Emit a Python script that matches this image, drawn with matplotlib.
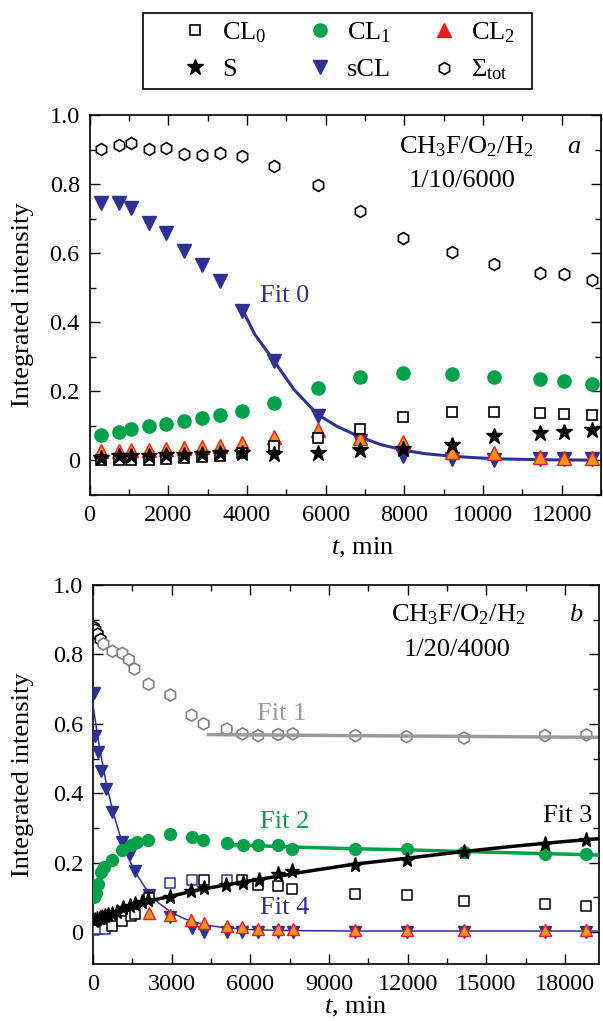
import matplotlib
matplotlib.use('Agg')
import matplotlib.pyplot as plt
from matplotlib.ticker import MultipleLocator, FuncFormatter
from matplotlib.lines import Line2D
from matplotlib.patches import Rectangle

plt.rcParams['font.family'] = 'Liberation Serif'
plt.rcParams['mathtext.fontset'] = 'custom'
plt.rcParams['mathtext.rm'] = 'Liberation Serif'
plt.rcParams['mathtext.it'] = 'Liberation Serif:italic'

BLUE = '#2e3192'
GREEN = '#00a14b'
ORANGE = '#f7941d'
RED = '#ed1c24'
GRAY = '#9a9a9a'

# ---------- panel a: CH3F/O2/H2 = 1/10/6000 ----------
t_a = [300, 760, 1060, 1510, 1940, 2400, 2860, 3310, 3880, 4690,
       5800, 6880, 7980, 9220, 10290, 11460, 12060, 12780]
tot_a = [0.901, 0.914, 0.920, 0.901, 0.904, 0.887, 0.885, 0.889, 0.880, 0.851,
         0.798, 0.723, 0.644, 0.602, 0.570, 0.544, 0.539, 0.522]
scl_a = [0.745, 0.744, 0.730, 0.687, 0.657, 0.605, 0.566, 0.520, 0.433, 0.288,
         0.130, 0.056, 0.012, 0.004, 0.002, 0.005, 0.005, 0.005]
cl1_a = [0.073, 0.082, 0.090, 0.099, 0.105, 0.113, 0.123, 0.131, 0.143, 0.166,
         0.211, 0.241, 0.254, 0.249, 0.243, 0.235, 0.230, 0.222]
cl2_a = [0.027, 0.027, 0.030, 0.030, 0.032, 0.035, 0.039, 0.041, 0.051, 0.069,
         0.087, 0.066, 0.053, 0.024, 0.022, 0.011, 0.008, 0.006]
cl0_a = [0.0, 0.0, 0.001, 0.002, 0.003, 0.006, 0.010, 0.014, 0.022, 0.041,
         0.066, 0.092, 0.126, 0.140, 0.140, 0.136, 0.135, 0.131]
s_a = [0.008, 0.012, 0.012, 0.014, 0.016, 0.017, 0.019, 0.022, 0.022, 0.020,
       0.022, 0.030, 0.034, 0.046, 0.070, 0.080, 0.082, 0.087]
# Fit 0 curve
fit0_t = [3880, 4200, 4690, 5200, 5800, 6300, 6880, 7400, 7980, 8500,
          9220, 9800, 10290, 11460, 12780]
fit0_v = [0.438, 0.365, 0.288, 0.205, 0.133, 0.098, 0.068, 0.046, 0.030, 0.020,
          0.012, 0.008, 0.005, 0.002, 0.001]

# ---------- panel b: CH3F/O2/H2 = 1/20/4000 ----------
t_b_tot = [30, 90, 180, 290, 400, 740, 1120, 1370, 1580, 2120, 2950, 3760,
           4220, 5100, 5700, 6300, 7060, 7620, 10010, 11960, 14150, 17240, 18820]
tot_b = [0.878, 0.870, 0.858, 0.843, 0.830, 0.809, 0.803, 0.785, 0.758, 0.714,
         0.683, 0.625, 0.600, 0.585, 0.571, 0.566, 0.569, 0.571, 0.566, 0.563,
         0.559, 0.566, 0.568]
t_b_scl = [20, 80, 200, 305, 500, 740, 1100, 1410, 1600, 2130, 2940, 3760,
           4220, 5100, 5700, 6300, 7060, 7620, 10010, 11960, 14150, 17240, 18820]
scl_b = [0.690, 0.566, 0.520, 0.463, 0.412, 0.345, 0.259, 0.226, 0.176, 0.106,
         0.044, 0.011, 0.0, 0.0, 0.0, 0.0, 0.0, 0.0, 0.0, 0.0, 0.0, 0.0, 0.0]
t_b_cl1 = [40, 100, 180, 305, 430, 740, 1090, 1450, 1660, 2110, 2940, 3760,
           4210, 5100, 5720, 6300, 7060, 7600, 10010, 11960, 14150, 17240, 18820]
cl1_b = [0.100, 0.113, 0.138, 0.173, 0.188, 0.209, 0.236, 0.250, 0.259, 0.264,
         0.284, 0.274, 0.266, 0.257, 0.252, 0.252, 0.250, 0.240, 0.240, 0.238,
         0.231, 0.226, 0.226]
t_b_cl0 = [40, 200, 460, 740, 1100, 1450, 1600, 2130, 2940, 3760, 4220, 5100,
           5700, 6300, 7060, 7600, 10010, 11960, 14150, 17240, 18820]
cl0_b = [0.005, 0.008, 0.010, 0.017, 0.031, 0.046, 0.051, 0.097, 0.140, 0.149,
         0.149, 0.149, 0.149, 0.137, 0.133, 0.125, 0.111, 0.106, 0.090, 0.082, 0.076]
# a few of the squares are drawn with a blue outline in the source
cl0_b_edge = ['#2e3192'] * 3 + ['black'] * 5 + ['#2e3192'] * 2 + ['black'] + \
             ['#2e3192'] + ['black'] * 9
t_b_s = [20, 76, 150, 250, 330, 450, 584, 740, 900, 1156, 1412, 1603, 1855,
         2084, 2930, 3720, 4225, 5080, 5714, 6324, 7065, 7599,
         10010, 11960, 14150, 17240, 18820]
s_b = [0.032, 0.034, 0.037, 0.040, 0.042, 0.045, 0.049, 0.053, 0.058, 0.068,
       0.075, 0.080, 0.087, 0.092, 0.100, 0.119, 0.128, 0.135, 0.140, 0.149,
       0.167, 0.176, 0.193, 0.207, 0.231, 0.255, 0.266]
t_b_cl2 = [2120, 2940, 3720, 4220, 5100, 5700, 6300, 7060, 7620,
           10010, 11960, 14150, 17240, 18820]
cl2_b = [0.055, 0.049, 0.034, 0.025, 0.017, 0.015, 0.010, 0.008, 0.008,
         0.006, 0.006, 0.006, 0.006, 0.006]
# fit curves
fit1_t = [4400, 19300]
fit1_v = [0.569, 0.561]
fit2_t = [5100, 7600, 10000, 12000, 14150, 17240, 19300]
fit2_v = [0.252, 0.245, 0.240, 0.237, 0.232, 0.226, 0.222]
fit3_t = [0, 500, 1000, 1500, 2000, 3000, 4000, 5000, 6000, 7000, 8000,
          10000, 12000, 14000, 16000, 18000, 19300]
fit3_v = [0.033, 0.047, 0.062, 0.076, 0.087, 0.104, 0.121, 0.135, 0.148, 0.160,
          0.173, 0.196, 0.213, 0.231, 0.247, 0.261, 0.269]
fit4_t = [0, 250, 500, 750, 1000, 1300, 1600, 2000, 2500, 3000, 3500, 4000,
          4500, 5000, 6000, 7000, 8000, 10000, 19300]
fit4_v = [0.653, 0.530, 0.431, 0.350, 0.285, 0.221, 0.174, 0.127, 0.084, 0.056,
          0.038, 0.026, 0.018, 0.013, 0.007, 0.005, 0.004, 0.003, 0.003]

FS = 19      # text size
TS = 17.5    # tick label size

fig = plt.figure(figsize=(6.03, 10.21), dpi=100)
W, H = 603.0, 1021.0
ax_a = fig.add_axes([89.5 / W, 1 - 495 / H, 511.5 / W, 380 / H])
ax_b = fig.add_axes([93 / W, 1 - 964 / H, 506 / W, 379 / H])


def style(ax, xmax, xmaj, ymin):
    ax.set_xlim(0, xmax)
    ax.set_ylim(ymin, 1.0)
    ax.xaxis.set_major_locator(MultipleLocator(xmaj))
    ax.xaxis.set_minor_locator(MultipleLocator(xmaj / 2))
    ax.yaxis.set_major_locator(MultipleLocator(0.2))
    ax.yaxis.set_minor_locator(MultipleLocator(0.1))
    ax.yaxis.set_major_formatter(FuncFormatter(lambda v, _: '0' if abs(v) < 1e-9 else f'{v:.1f}'))
    ax.xaxis.set_major_formatter(FuncFormatter(lambda v, _: f'{v:.0f}'))
    ax.tick_params(which='both', direction='in', top=True, right=True, width=1, labelsize=TS)
    ax.tick_params(which='major', length=7, pad=7)
    ax.tick_params(which='minor', length=4)
    for sp in ax.spines.values():
        sp.set_linewidth(1.2)
    ax.set_ylabel('Integrated intensity', fontsize=FS)
    ax.set_xlabel(r'$t$, min', fontsize=FS)


style(ax_a, 13000, 2000, -0.1)
style(ax_b, 19300, 3000, -0.092)
ax_a.yaxis.set_label_coords(-0.108, 0.5)
ax_b.yaxis.set_label_coords(-0.117, 0.5)
ax_a.xaxis.set_label_coords(0.533, -0.108)
ax_b.xaxis.set_label_coords(0.518, -0.082)

# panel a
ax_a.plot(t_a, tot_a, 'h', ms=8.5, mfc='white', mec='black', mew=1.2, ls='none')
ax_a.plot(t_a, scl_a, 'v', ms=9.5, color=BLUE, ls='none')
ax_a.plot(fit0_t, fit0_v, '-', color=BLUE, lw=2.2)
ax_a.plot(t_a, cl2_a, '^', ms=9.5, mfc=ORANGE, mec=RED, mew=1, ls='none')
ax_a.plot(t_a, cl0_a, 's', ms=7.5, mfc='white', mec='black', mew=1.2, ls='none')
ax_a.plot(t_a, cl1_a, 'o', ms=9.5, color=GREEN, ls='none')
ax_a.plot(t_a, s_a, '*', ms=12, color='black', ls='none')
ax_a.text(4970, 0.476, 'Fit 0', color=BLUE, fontsize=FS, ha='center', va='center')
ax_a.text(0.737, 0.917, 'CH$_3$F/O$_2$/H$_2$', transform=ax_a.transAxes, fontsize=FS,
          ha='center', va='center')
ax_a.text(0.728, 0.826, '1/10/6000', transform=ax_a.transAxes, fontsize=FS,
          ha='center', va='center')
ax_a.text(0.946, 0.917, 'a', transform=ax_a.transAxes, fontsize=FS, style='italic',
          ha='center', va='center')

# panel b
hex_edges = ['black'] * 4 + ['#808080'] * (len(t_b_tot) - 4)
ax_b.scatter(t_b_tot, tot_b, marker='h', s=75, facecolors='white',
             edgecolors=hex_edges, linewidths=1.2, zorder=2)
ax_b.plot(fit1_t, fit1_v, '-', color=GRAY, lw=2.5, zorder=2)
ax_b.plot(t_b_scl, scl_b, 'v', ms=8.5, color=BLUE, ls='none', zorder=3)
ax_b.plot(fit4_t, fit4_v, '-', color=BLUE, lw=1.1, zorder=3)
ax_b.plot(t_b_cl2, cl2_b, '^', ms=8.5, mfc=ORANGE, mec=RED, mew=1, ls='none', zorder=3)
ax_b.scatter(t_b_cl0, cl0_b, marker='s', s=52, facecolors='white',
             edgecolors=cl0_b_edge, linewidths=1.1, zorder=3)
ax_b.plot(t_b_cl1, cl1_b, 'o', ms=8.5, color=GREEN, ls='none', zorder=4)
ax_b.plot(fit2_t, fit2_v, '-', color=GREEN, lw=2.5, zorder=4)
ax_b.plot(t_b_s, s_b, '*', ms=11, color='black', ls='none', zorder=5)
ax_b.plot(fit3_t, fit3_v, '-', color='black', lw=2.5, zorder=5)
ax_b.text(7200, 0.628, 'Fit 1', color=GRAY, fontsize=FS, ha='center', va='center')
ax_b.text(7300, 0.317, 'Fit 2', color=GREEN, fontsize=FS, ha='center', va='center')
ax_b.text(18100, 0.333, 'Fit 3', color='black', fontsize=FS, ha='center', va='center')
ax_b.text(7300, 0.068, 'Fit 4', color=BLUE, fontsize=FS, ha='center', va='center')
ax_b.text(0.722, 0.921, 'CH$_3$F/O$_2$/H$_2$', transform=ax_b.transAxes, fontsize=FS,
          ha='center', va='center')
ax_b.text(0.719, 0.828, '1/20/4000', transform=ax_b.transAxes, fontsize=FS,
          ha='center', va='center')
ax_b.text(0.953, 0.921, 'b', transform=ax_b.transAxes, fontsize=FS, style='italic',
          ha='center', va='center')

# legend at the top of the figure
handles = [
    Line2D([], [], marker='s', ms=7.5, mfc='white', mec='black', mew=1.2, ls='none'),
    Line2D([], [], marker='*', ms=12, color='black', ls='none'),
    Line2D([], [], marker='o', ms=9.5, color=GREEN, ls='none'),
    Line2D([], [], marker='v', ms=9.5, color=BLUE, ls='none'),
    Line2D([], [], marker='^', ms=9.5, color=RED, ls='none'),
    Line2D([], [], marker='h', ms=8.5, mfc='white', mec='black', mew=1.2, ls='none'),
]
labels = ['CL$_0$', 'S', 'CL$_1$', 'sCL', 'CL$_2$', 'Σ$_{\\rm tot}$']
fig.legend(handles, labels, ncol=3, loc='upper left', frameon=False,
           bbox_to_anchor=(176.5 / W, 1 - 20 / H), fontsize=FS,
           handlelength=1.4, handletextpad=0.32, columnspacing=1.32,
           labelspacing=0.5, borderpad=0, borderaxespad=0)
fig.patches.append(Rectangle((143 / W, 1 - 89.5 / H), (532 - 143) / W, 76 / H,
                             transform=fig.transFigure, fill=False,
                             edgecolor='black', lw=1.2))

fig.savefig('out.png', dpi=100)
